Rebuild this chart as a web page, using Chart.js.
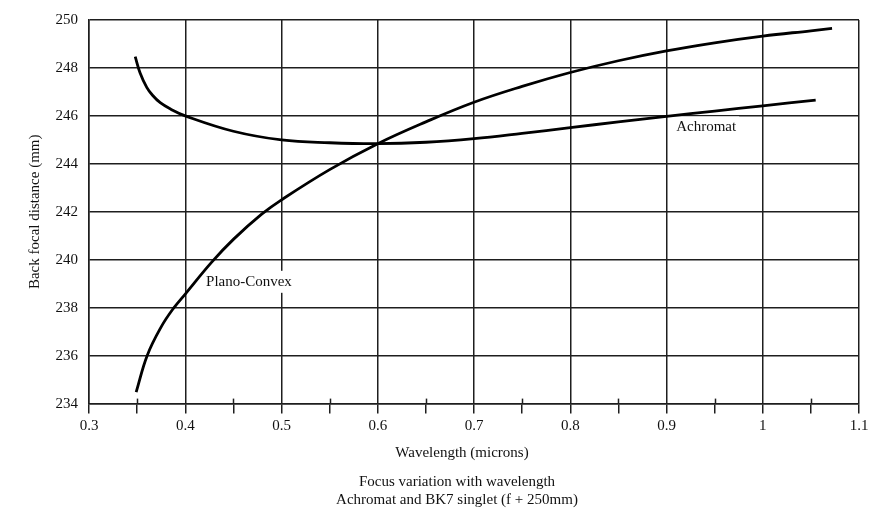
<!DOCTYPE html>
<html>
<head>
<meta charset="utf-8">
<title>Focus variation with wavelength</title>
<script src="https://cdn.jsdelivr.net/npm/chart.js@4"></script>
<style>
  html, body { margin: 0; padding: 0; background: #fff; }
</style>
</head>
<body>
<canvas id="myChart" width="882" height="508"></canvas>
<script>
var seriesNames = ['Achromat', 'Plano-Convex'];

var achromatX = [0.348, 0.353, 0.36, 0.366, 0.374, 0.385, 0.4, 0.45, 0.5, 0.55, 0.6, 0.65, 0.7, 0.75, 0.8, 0.85, 0.9, 0.95, 1.0, 1.055];
var achromatY = [248.47, 247.8, 247.19, 246.86, 246.55, 246.28, 246.0, 245.36, 245.0, 244.88, 244.84, 244.9, 245.05, 245.27, 245.51, 245.75, 245.98, 246.2, 246.42, 246.66];

var planoX = [0.349, 0.3604, 0.375, 0.3877, 0.4, 0.4275, 0.45, 0.4794, 0.5, 0.55, 0.6, 0.65, 0.7, 0.75, 0.8, 0.85, 0.9, 0.95, 1.0, 1.05, 1.072];
var planoY = [234.48, 236.0, 237.2, 237.97, 238.57, 239.9, 240.85, 241.9, 242.5, 243.76, 244.84, 245.75, 246.57, 247.23, 247.81, 248.3, 248.71, 249.05, 249.33, 249.55, 249.65];

var xTickLabels = ['0.3', '0.4', '0.5', '0.6', '0.7', '0.8', '0.9', '1', '1.1'];
var yTickLabels = ['234', '236', '238', '240', '242', '244', '246', '248', '250'];

var xTitle = 'Wavelength (microns)';
var yTitle = 'Back focal distance (mm)';
var captionLines = ['Focus variation with wavelength', 'Achromat and BK7 singlet (f + 250mm)'];

var gridColor = '#1e1e1e';
var serif = "'Liberation Serif', 'DejaVu Serif', serif";

Chart.defaults.font.family = serif;
Chart.defaults.font.size = 15;
Chart.defaults.color = '#111';

function toPoints(xs, ys) {
    return xs.map(function (x, i) { return { x: x, y: ys[i] }; });
}

// names written next to each curve, white box behind (drawn under the curves)
var curveLabels = {
    id: 'curveLabels',
    beforeDatasetsDraw: function (chart) {
        var c = chart.ctx;
        var xs = chart.scales.x, ys = chart.scales.y;
        var spots = [
            { text: seriesNames[0], x: 0.9101, y: 245.52 },
            { text: seriesNames[1], x: 0.4216, y: 239.08 }
        ];
        c.save();
        c.font = '15px ' + serif;
        c.textBaseline = 'middle';
        c.textAlign = 'left';
        spots.forEach(function (s) {
            var px = xs.getPixelForValue(s.x);
            var py = ys.getPixelForValue(s.y);
            var w = c.measureText(s.text).width;
            c.fillStyle = '#fff';
            c.fillRect(px - 3, py - 11, w + 6, 22);
            c.fillStyle = '#111';
            c.fillText(s.text, px, py);
        });
        c.restore();
    }
};

// minor ticks poke a little above the axis; axis title and caption under the chart
var extras = {
    id: 'extras',
    afterDraw: function (chart) {
        var c = chart.ctx;
        var xs = chart.scales.x;
        var axisY = chart.chartArea.bottom;
        c.save();
        c.strokeStyle = gridColor;
        c.lineWidth = 1.5;
        xs.ticks.forEach(function (t, i) {
            if (i % 2 === 1) {
                var px = Math.round(xs.getPixelForValue(t.value)) + 0.5;
                c.beginPath();
                c.moveTo(px, axisY - 5);
                c.lineTo(px, axisY);
                c.stroke();
            }
        });
        c.fillStyle = '#111';
        c.font = '15px ' + serif;
        c.textAlign = 'center';
        c.textBaseline = 'middle';
        c.fillText(xTitle, 462, 453);
        c.fillText(captionLines[0], 457, 482);
        c.fillText(captionLines[1], 457, 500);
        c.restore();
    }
};

var ctx = document.getElementById('myChart').getContext('2d');
var chart = new Chart(ctx, {
    type: 'line',
    data: {
        datasets: [{
            label: seriesNames[0],
            data: toPoints(achromatX, achromatY),
            borderColor: '#000',
            borderWidth: 2.8,
            pointRadius: 0,
            fill: false,
            tension: 0.4
        }, {
            label: seriesNames[1],
            data: toPoints(planoX, planoY),
            borderColor: '#000',
            borderWidth: 2.8,
            pointRadius: 0,
            fill: false,
            tension: 0.4
        }]
    },
    options: {
        responsive: false,
        animation: false,
        layout: { padding: { top: 19, right: 23, bottom: 0, left: 0 } },
        plugins: {
            legend: { display: false },
            tooltip: { enabled: false }
        },
        scales: {
            x: {
                type: 'linear',
                min: 0.3,
                max: 1.1,
                afterFit: function (scale) { scale.height = 104.4; },
                ticks: {
                    stepSize: 0.05,
                    autoSkip: false,
                    maxRotation: 0,
                    padding: 3,
                    color: '#111',
                    callback: function (value, index) {
                        return index % 2 === 0 ? xTickLabels[index / 2] : '';
                    }
                },
                grid: {
                    color: function (c) { return c.index % 2 === 0 ? gridColor : 'rgba(0,0,0,0)'; },
                    lineWidth: 1.5,
                    tickLength: 10,
                    tickColor: gridColor,
                    tickWidth: 1.5
                },
                border: { color: gridColor, width: 1.5 }
            },
            y: {
                min: 234,
                max: 250,
                afterFit: function (scale) { scale.width = 89; },
                ticks: {
                    stepSize: 2,
                    padding: 11,
                    color: '#111',
                    callback: function (value, index) { return yTickLabels[index]; }
                },
                grid: {
                    color: gridColor,
                    lineWidth: 1.5,
                    drawTicks: false
                },
                border: { color: gridColor, width: 1.5 },
                title: {
                    display: true,
                    text: yTitle,
                    color: '#111',
                    font: { size: 15 },
                    padding: { top: 26, bottom: 0 }
                }
            }
        }
    },
    plugins: [curveLabels, extras]
});
</script>
</body>
</html>
